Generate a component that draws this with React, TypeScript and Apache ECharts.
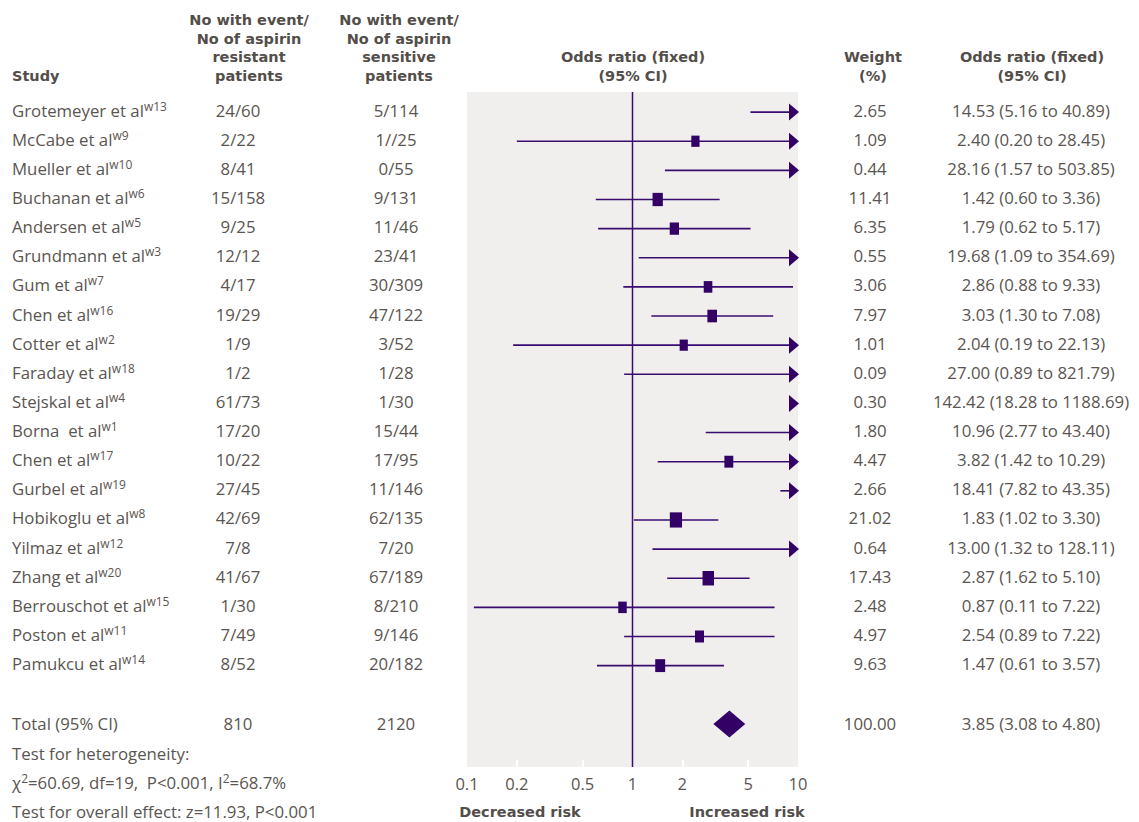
import React, { useEffect, useRef } from "react";
import * as echarts from "echarts";

const studies = ["Grotemeyer et al", "McCabe et al", "Mueller et al", "Buchanan et al", "Andersen et al", "Grundmann et al", "Gum et al", "Chen et al", "Cotter et al", "Faraday et al", "Stejskal et al", "Borna  et al", "Chen et al", "Gurbel et al", "Hobikoglu et al", "Yilmaz et al", "Zhang et al", "Berrouschot et al", "Poston et al", "Pamukcu et al"];
const refs = ["w13", "w9", "w10", "w6", "w5", "w3", "w7", "w16", "w2", "w18", "w4", "w1", "w17", "w19", "w8", "w12", "w20", "w15", "w11", "w14"];
const resistant = ["24/60", "2/22", "8/41", "15/158", "9/25", "12/12", "4/17", "19/29", "1/9", "1/2", "61/73", "17/20", "10/22", "27/45", "42/69", "7/8", "41/67", "1/30", "7/49", "8/52"];
const sensitive = ["5/114", "1//25", "0/55", "9/131", "11/46", "23/41", "30/309", "47/122", "3/52", "1/28", "1/30", "15/44", "17/95", "11/146", "62/135", "7/20", "67/189", "8/210", "9/146", "20/182"];
const weights = [2.65, 1.09, 0.44, 11.41, 6.35, 0.55, 3.06, 7.97, 1.01, 0.09, 0.3, 1.8, 4.47, 2.66, 21.02, 0.64, 17.43, 2.48, 4.97, 9.63];
const oddsRatio = [14.53, 2.4, 28.16, 1.42, 1.79, 19.68, 2.86, 3.03, 2.04, 27.0, 142.42, 10.96, 3.82, 18.41, 1.83, 13.0, 2.87, 0.87, 2.54, 1.47];
const ciLow = [5.16, 0.2, 1.57, 0.6, 0.62, 1.09, 0.88, 1.3, 0.19, 0.89, 18.28, 2.77, 1.42, 7.82, 1.02, 1.32, 1.62, 0.11, 0.89, 0.61];
const ciHigh = [40.89, 28.45, 503.85, 3.36, 5.17, 354.69, 9.33, 7.08, 22.13, 821.79, 1188.69, 43.4, 10.29, 43.35, 3.3, 128.11, 5.1, 7.22, 7.22, 3.57];

const totalLabel = "Total (95% CI)";
const totalResistant = "810";
const totalSensitive = "2120";
const totalWeight = 100.0;
const totalOR = 3.85;
const totalLow = 3.08;
const totalHigh = 4.8;

const xTickLabels = [0.1, 0.2, 0.5, 1, 2, 5, 10];
const xInnerTicks = [0.2, 0.5, 2, 5];

const FONT = "'Open Sans', 'Noto Sans', sans-serif";
const HFONT = "'DejaVu Sans', Lato, sans-serif";
const TEXT = "#5a5551";
const HTEXT = "#534e4a";
const PURPLE = "#3a0c70";
const FILL = "#330066";
const GRAYBG = "#f0efed";

const TOTAL_ROW = 21;

const COL_STUDY = 12;
const COL_RES = 238;
const COL_SEN = 396;
const COL_W = 870;
const COL_OR = 1031;

const BODY_SIZE = 16.8;
const SUP_SIZE = 12;
const HEAD_SIZE = 14.5;
const HEAD_LH = 18.6;

function fmtCI(o: number, l: number, h: number) {
  return `${o.toFixed(2)} (${l.toFixed(2)} to ${h.toFixed(2)})`;
}

const bodyRich = {
  n: { fontSize: BODY_SIZE, fontFamily: FONT, fill: TEXT, color: TEXT, lineHeight: 20 },
  s: { fontSize: SUP_SIZE, fontFamily: FONT, fill: TEXT, color: TEXT, lineHeight: 9, verticalAlign: "top" },
};

function bodyText(text: string, x: number, y: number, align: string, rich = false) {
  return {
    type: "text",
    x,
    y,
    style: {
      text,
      fill: TEXT,
      fontSize: BODY_SIZE,
      fontFamily: FONT,
      align,
      verticalAlign: "middle",
      rich: rich ? bodyRich : undefined,
    },
  };
}

function header(lines: string[], x: number, lastY: number, align: string) {
  const n = lines.length;
  return lines.map((t, i) => ({
    type: "text",
    x,
    y: lastY - (n - 1 - i) * HEAD_LH,
    style: {
      text: t,
      fill: HTEXT,
      fontSize: HEAD_SIZE,
      fontWeight: "bold",
      fontFamily: HFONT,
      align,
      verticalAlign: "middle",
    },
  }));
}

export default function App() {
  const ref = useRef<HTMLDivElement>(null);
  useEffect(() => {
    if (!ref.current) return;
    const chart = echarts.init(ref.current, undefined, { renderer: "svg" });

    const ciData = studies.map((_, i) => [oddsRatio[i], i, ciLow[i], ciHigh[i], weights[i]]);
    const tableData = studies.map((_, i) => [1, i]);

    const headerGraphics = [
      ...header(["Study"], COL_STUDY, 76, "left"),
      ...header(["No with event/", "No of aspirin", "resistant", "patients"], 249, 76, "center"),
      ...header(["No with event/", "No of aspirin", "sensitive", "patients"], 399, 76, "center"),
      ...header(["Odds ratio (fixed)", "(95% CI)"], 633, 76, "center"),
      ...header(["Weight", "(%)"], 873, 76, "center"),
      ...header(["Odds ratio (fixed)", "(95% CI)"], 1032, 76, "center"),
      ...header(["Decreased risk"], 520, 812, "center"),
      ...header(["Increased risk"], 747, 812, "center"),
    ];

    const option: any = {
      animation: false,
      grid: {
        left: 467,
        top: 92,
        width: 331,
        height: 675,
        show: true,
        backgroundColor: GRAYBG,
        borderWidth: 0,
        containLabel: false,
      },
      xAxis: {
        type: "log",
        logBase: 10,
        min: 0.1,
        max: 10,
        position: "bottom",
        axisLine: { show: false, onZero: false },
        splitLine: { show: false },
        axisTick: {
          show: true,
          inside: true,
          length: 7,
          customValues: xInnerTicks,
          lineStyle: { color: "#ffffff", width: 2 },
        },
        axisLabel: {
          customValues: xTickLabels,
          formatter: (v: number) => String(v),
          color: TEXT,
          fontSize: 16.5,
          fontFamily: FONT,
          margin: 8,
        },
      },
      yAxis: {
        type: "value",
        inverse: true,
        min: -0.69,
        max: 22.48,
        show: false,
      },
      graphic: headerGraphics,
      series: [
        {
          type: "custom",
          name: "reference",
          data: [[1, 0]],
          encode: { x: 0, y: 1 },
          renderItem: (params: any, api: any) => {
            const cs = params.coordSys;
            const x = api.coord([api.value(0), 0])[0];
            return {
              type: "line",
              shape: { x1: x, y1: cs.y, x2: x, y2: cs.y + cs.height },
              style: { stroke: PURPLE, lineWidth: 1.5 },
            };
          },
        },
        {
          type: "custom",
          name: "studies",
          data: ciData,
          encode: { x: 0, y: 1 },
          renderItem: (params: any, api: any) => {
            const cs = params.coordSys;
            const left = cs.x;
            const right = cs.x + cs.width;
            const or = api.value(0);
            const row = api.value(1);
            const lo = api.value(2);
            const hi = api.value(3);
            const w = api.value(4);
            const y = api.coord([1, row])[1];
            const arrowLen = 9;
            const arrowHalf = 8.5;
            const children: any[] = [];
            const arrow = hi > 10;
            const xlo = Math.max(api.coord([Math.max(lo, 0.1), row])[0], left);
            const xhi = arrow ? right - arrowLen : api.coord([hi, row])[0];
            if (lo < 10 && xhi > xlo) {
              children.push({
                type: "line",
                shape: { x1: xlo, y1: y, x2: xhi, y2: y },
                style: { stroke: PURPLE, lineWidth: 1.6 },
              });
            }
            if (arrow) {
              children.push({
                type: "polygon",
                shape: { points: [[right - arrowLen, y - arrowHalf], [right + 1, y], [right - arrowLen, y + arrowHalf]] },
                style: { fill: FILL },
              });
            }
            if (or <= 10) {
              const x = api.coord([or, row])[0];
              const sw = 8 + 0.2 * w;
              const sh = sw + 3;
              children.push({
                type: "rect",
                shape: { x: x - sw / 2, y: y - sh / 2, width: sw, height: sh },
                style: { fill: FILL },
              });
            }
            return { type: "group", children };
          },
        },
        {
          type: "custom",
          name: "total",
          data: [[totalOR, TOTAL_ROW, totalLow, totalHigh]],
          encode: { x: 0, y: 1 },
          renderItem: (params: any, api: any) => {
            const row = api.value(1);
            const y = api.coord([1, row])[1];
            const xc = api.coord([api.value(0), row])[0];
            const xl = api.coord([api.value(2), row])[0];
            const xr = api.coord([api.value(3), row])[0];
            const hh = 13.5;
            return {
              type: "polygon",
              shape: { points: [[xl, y], [xc, y - hh], [xr, y], [xc, y + hh]] },
              style: { fill: FILL },
            };
          },
        },
        {
          type: "custom",
          name: "table",
          data: tableData,
          encode: { x: 0, y: 1 },
          clip: false,
          renderItem: (params: any, api: any) => {
            const i = params.dataIndex;
            const row = api.value(1);
            const y = api.coord([1, row])[1] - 2;
            return {
              type: "group",
              children: [
                bodyText(`{n|${studies[i]}}{s|${refs[i]}}`, COL_STUDY, y, "left", true),
                bodyText(resistant[i], COL_RES, y, "center"),
                bodyText(sensitive[i], COL_SEN, y, "center"),
                bodyText(weights[i].toFixed(2), COL_W, y, "center"),
                bodyText(fmtCI(oddsRatio[i], ciLow[i], ciHigh[i]), COL_OR, y, "center"),
              ],
            };
          },
        },
        {
          type: "custom",
          name: "footer",
          data: [[1, TOTAL_ROW]],
          encode: { x: 0, y: 1 },
          clip: false,
          renderItem: (params: any, api: any) => {
            const row = api.value(1);
            const y0 = api.coord([1, row])[1];
            const y1 = api.coord([1, row + 1])[1];
            const y2 = api.coord([1, row + 2])[1];
            const y3 = api.coord([1, row + 3])[1];
            return {
              type: "group",
              children: [
                bodyText(totalLabel, COL_STUDY, y0, "left"),
                bodyText(totalResistant, COL_RES, y0, "center"),
                bodyText(totalSensitive, COL_SEN, y0, "center"),
                bodyText(totalWeight.toFixed(2), COL_W, y0, "center"),
                bodyText(fmtCI(totalOR, totalLow, totalHigh), COL_OR, y0, "center"),
                bodyText("Test for heterogeneity:", COL_STUDY, y1, "left"),
                bodyText("{n|χ}{s|2}{n|=60.69, df=19,  P<0.001, I}{s|2}{n|=68.7%}", COL_STUDY, y2, "left", true),
                bodyText("Test for overall effect: z=11.93, P<0.001", COL_STUDY, y3, "left"),
              ],
            };
          },
        },
      ],
    };
    chart.setOption(option);
    return () => chart.dispose();
  }, []);
  return (
    <div
      ref={ref}
      style={{ position: "absolute", left: 0, top: 0, width: 1139, height: 822, background: "#ffffff" }}
    />
  );
}
